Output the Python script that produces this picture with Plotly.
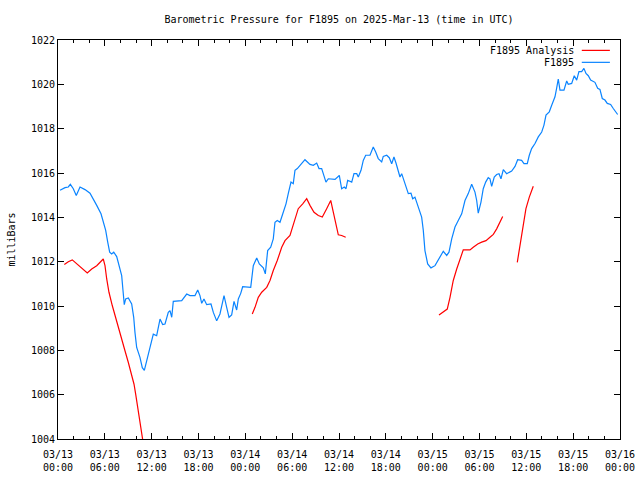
import pandas as pd
import plotly.graph_objects as go

BASE = pd.Timestamp("2025-03-13 00:00")

# Observed station pressure (hours since 2025-03-13 00:00 UTC, millibars)
obs_hours = [0.26, 0.90, 1.32, 1.58, 1.96, 2.34, 2.82, 3.46, 4.10, 4.52, 4.96, 5.51, 5.80, 6.11, 6.37, 6.62,
             6.88, 7.14, 7.52, 7.81, 8.16, 8.33, 8.49, 8.67, 9.01, 9.44, 9.70, 9.86, 10.08, 10.50, 10.80, 11.06,
             11.36, 11.70, 12.00, 12.21, 12.64, 13.07, 13.41, 13.71, 14.13, 14.35, 14.57, 14.77, 15.85, 16.49,
             16.91, 17.55, 17.90, 18.19, 18.41, 18.70, 19.05, 19.60, 19.90, 20.33, 20.75, 21.27, 21.61, 21.91,
             22.25, 22.55, 22.89, 23.10, 23.41, 23.66, 24.69, 25.02, 25.46, 25.79, 26.30, 26.56, 26.86, 27.25,
             27.58, 27.80, 28.09, 28.44, 28.86, 29.21, 29.50, 29.85, 30.14, 30.36, 30.66, 31.00, 31.64, 32.28,
             32.71, 33.14, 33.44, 33.78, 34.33, 34.63, 35.49, 36.04, 36.34, 36.68, 36.90, 37.11, 37.63, 37.92,
             38.27, 38.47, 38.82, 39.11, 39.42, 39.97, 40.39, 40.70, 41.03, 41.47, 41.67, 42.11, 42.44, 42.75,
             43.04, 43.30, 43.59, 43.81, 44.03, 44.24, 44.45, 44.67, 44.88, 45.22, 45.44, 45.73, 45.95, 46.16,
             46.37, 46.59, 46.80, 47.01, 47.36, 47.78, 48.30, 48.81, 49.36, 49.80, 50.09, 50.44, 50.86, 51.28,
             51.72, 52.14, 52.56, 53.00, 53.42, 53.64, 53.84, 54.19, 54.48, 54.79, 55.12, 55.34, 55.56, 55.89,
             56.20, 56.50, 56.75, 57.05, 57.48, 58.12, 58.55, 58.89, 59.40, 59.70, 60.12, 60.38, 60.68, 61.11,
             61.53, 61.97, 62.26, 62.52, 62.94, 63.25, 63.67, 63.89, 64.09, 64.31, 64.82, 65.17, 65.37, 65.81,
             66.14, 66.45, 66.74, 67.09, 67.38, 67.64, 67.94, 68.24, 68.79, 69.14, 69.43, 69.73, 70.07, 70.37,
             70.80, 71.14, 71.57, 71.70]
obs_values = [1015.22, 1015.34, 1015.37, 1015.49, 1015.29, 1014.99, 1015.37, 1015.25, 1015.09, 1014.84, 1014.54,
              1014.16, 1013.78, 1013.41, 1012.88, 1012.43, 1012.35, 1012.43, 1012.23, 1011.82, 1011.37, 1010.69,
              1010.06, 1010.32, 1010.36, 1010.09, 1009.49, 1008.81, 1008.13, 1007.68, 1007.22, 1007.10, 1007.53,
              1007.98, 1008.43, 1008.73, 1008.66, 1009.41, 1009.16, 1009.19, 1009.71, 1009.79, 1009.49, 1010.21,
              1010.24, 1010.54, 1010.47, 1010.47, 1010.72, 1010.47, 1010.12, 1010.32, 1010.06, 1010.09, 1009.71,
              1009.33, 1009.64, 1010.47, 1009.94, 1009.49, 1009.60, 1010.21, 1009.82, 1010.32, 1010.57, 1010.87,
              1010.84, 1011.82, 1012.17, 1011.90, 1011.72, 1011.45, 1012.50, 1012.65, 1013.03, 1013.78, 1013.86,
              1013.78, 1014.23, 1014.61, 1015.07, 1015.59, 1015.52, 1016.12, 1016.20, 1016.35, 1016.60, 1016.39,
              1016.35, 1016.45, 1016.20, 1016.20, 1015.59, 1015.74, 1015.71, 1015.89, 1015.29, 1015.37, 1015.29,
              1015.67, 1015.59, 1015.97, 1015.97, 1015.82, 1016.12, 1016.57, 1016.80, 1016.80, 1017.17, 1016.95,
              1016.65, 1016.50, 1016.75, 1016.80, 1016.69, 1016.42, 1016.72, 1016.45, 1016.12, 1015.82, 1015.97,
              1015.74, 1015.59, 1015.29, 1015.07, 1015.09, 1014.84, 1014.91, 1014.69, 1014.39, 1014.28, 1014.01,
              1013.41, 1012.50, 1011.90, 1011.72, 1011.82, 1012.12, 1012.47, 1012.28, 1012.43, 1013.03, 1013.56,
              1013.86, 1014.16, 1014.76, 1015.07, 1015.49, 1015.14, 1014.76, 1014.19, 1014.69, 1015.29, 1015.59,
              1015.79, 1015.74, 1015.40, 1015.82, 1015.93, 1015.97, 1015.74, 1016.15, 1015.97, 1016.09, 1016.30,
              1016.60, 1016.57, 1016.42, 1016.42, 1016.80, 1017.10, 1017.33, 1017.63, 1017.85, 1018.16, 1018.61,
              1018.76, 1019.06, 1019.44, 1019.84, 1020.24, 1019.74, 1019.74, 1020.15, 1020.00, 1020.04, 1020.39,
              1020.19, 1020.57, 1020.57, 1020.72, 1020.49, 1020.39, 1020.19, 1020.09, 1019.82, 1019.77, 1019.36,
              1019.29, 1019.14, 1019.09, 1018.91, 1018.73, 1018.64]

# Analysis segments
ana1_hours = [0.81, 1.32, 1.83, 2.40, 3.04, 3.75, 4.32, 4.96, 5.80, 6.02, 6.24, 6.53, 6.96, 7.30, 7.72, 8.16,
              8.58, 9.01, 9.44, 9.74, 9.95, 10.21, 10.50, 10.80, 10.95]
ana1_values = [1011.87, 1012.00, 1012.08, 1011.90, 1011.67, 1011.49, 1011.67, 1011.82, 1012.12, 1011.82, 1011.22,
               1010.62, 1010.01, 1009.56, 1009.03, 1008.51, 1007.98, 1007.45, 1006.93, 1006.47, 1006.02, 1005.42,
               1004.66, 1004.09, 1003.74]
ana2_hours = [24.89, 25.24, 25.66, 26.10, 26.74, 27.16, 27.58, 28.09, 28.66, 29.08, 29.72, 30.07, 30.36, 30.78,
              31.35, 31.86, 32.28, 32.80, 33.35, 33.86, 34.42, 34.94, 35.27, 35.70, 35.91, 36.34, 36.86]
ana2_values = [1009.64, 1009.94, 1010.39, 1010.62, 1010.84, 1011.15, 1011.60, 1012.05, 1012.65, 1012.95, 1013.18,
               1013.56, 1013.94, 1014.39, 1014.61, 1014.84, 1014.54, 1014.23, 1014.08, 1014.01, 1014.39, 1014.76,
               1014.23, 1013.63, 1013.21, 1013.18, 1013.10]
ana3_hours = [48.81, 49.36, 49.87, 50.22, 50.64, 51.08, 51.50, 51.92, 52.36, 52.78, 53.20, 53.77, 54.28, 54.83,
              55.34, 55.77, 56.20, 56.62, 56.97]
ana3_values = [1009.59, 1009.74, 1009.86, 1010.39, 1011.15, 1011.67, 1012.12, 1012.53, 1012.53, 1012.53, 1012.65,
               1012.80, 1012.88, 1012.95, 1013.10, 1013.23, 1013.48, 1013.78, 1014.04]
ana4_hours = [58.84, 59.18, 59.61, 59.95, 60.38, 60.89]
ana4_values = [1011.97, 1012.70, 1013.71, 1014.39, 1014.91, 1015.40]

tick_hours = list(range(0, 73, 6))
tick_labels = ["03/13<br>00:00", "03/13<br>06:00", "03/13<br>12:00", "03/13<br>18:00",
               "03/14<br>00:00", "03/14<br>06:00", "03/14<br>12:00", "03/14<br>18:00",
               "03/15<br>00:00", "03/15<br>06:00", "03/15<br>12:00", "03/15<br>18:00",
               "03/16<br>00:00"]


def to_time(hours):
    return list(BASE + pd.to_timedelta(hours, unit="h"))


ana_x, ana_y = [], []
for hs, vs in [(ana1_hours, ana1_values), (ana2_hours, ana2_values),
               (ana3_hours, ana3_values), (ana4_hours, ana4_values)]:
    ana_x += to_time(hs) + [None]
    ana_y += vs + [None]

RED = "#ff0000"
BLUE = "#0a84ff"
FONT = "DejaVu Sans Mono"

fig = go.Figure()
fig.add_trace(go.Scatter(x=ana_x, y=ana_y, mode="lines", name="F1895 Analysis",
                         line=dict(color=RED, width=1.2), connectgaps=False, showlegend=False))
fig.add_trace(go.Scatter(x=to_time(obs_hours), y=obs_values, mode="lines", name="F1895",
                         line=dict(color=BLUE, width=1.2), showlegend=False))

# legend drawn gnuplot-style (text right, sample line to its right)
for label, color, yp in [("F1895 Analysis", RED, 0.974), ("F1895", BLUE, 0.944)]:
    fig.add_annotation(x=0.922, y=yp, xref="paper", yref="paper", text=label, showarrow=False,
                       xanchor="right", yanchor="middle", font=dict(family=FONT, size=10, color="black"))
    fig.add_shape(type="line", xref="paper", yref="paper", x0=0.932, x1=0.982, y0=yp, y1=yp,
                  line=dict(color=color, width=1.2))

fig.update_layout(
    width=640, height=480,
    margin=dict(l=58, r=20, t=40, b=41),
    paper_bgcolor="white", plot_bgcolor="white",
    font=dict(family=FONT, size=10, color="black"),
    title=dict(text="Barometric Pressure for F1895 on 2025-Mar-13 (time in UTC)",
               x=0.5, xref="paper", xanchor="center", y=1 - 19 / 480, yref="container",
               yanchor="middle", font=dict(family=FONT, size=10, color="black")),
)
fig.update_xaxes(
    range=[BASE, BASE + pd.Timedelta(hours=72)], automargin=False,
    tickvals=to_time(tick_hours), ticktext=tick_labels, ticklabelstandoff=6,
    ticks="inside", ticklen=6, tickcolor="black", tickwidth=1,
    minor=dict(dtick=2 * 3600000, tick0=BASE, ticks="inside", ticklen=3, tickcolor="black"),
    showline=True, linecolor="black", linewidth=1, mirror="allticks",
    showgrid=False, zeroline=False, tickfont=dict(family=FONT, size=10),
)
fig.update_yaxes(
    range=[1004, 1022], dtick=2, tick0=1004, automargin=False,
    ticks="inside", ticklen=6, tickcolor="black", tickwidth=1,
    showline=True, linecolor="black", linewidth=1, mirror="allticks",
    showgrid=False, zeroline=False, tickfont=dict(family=FONT, size=10),
    title=dict(text="milliBars", font=dict(family=FONT, size=10), standoff=13),
)

fig.write_html("out.html", config={"displayModeBar": False},
               post_script="document.body.style.margin='0';document.body.style.overflow='hidden';")
